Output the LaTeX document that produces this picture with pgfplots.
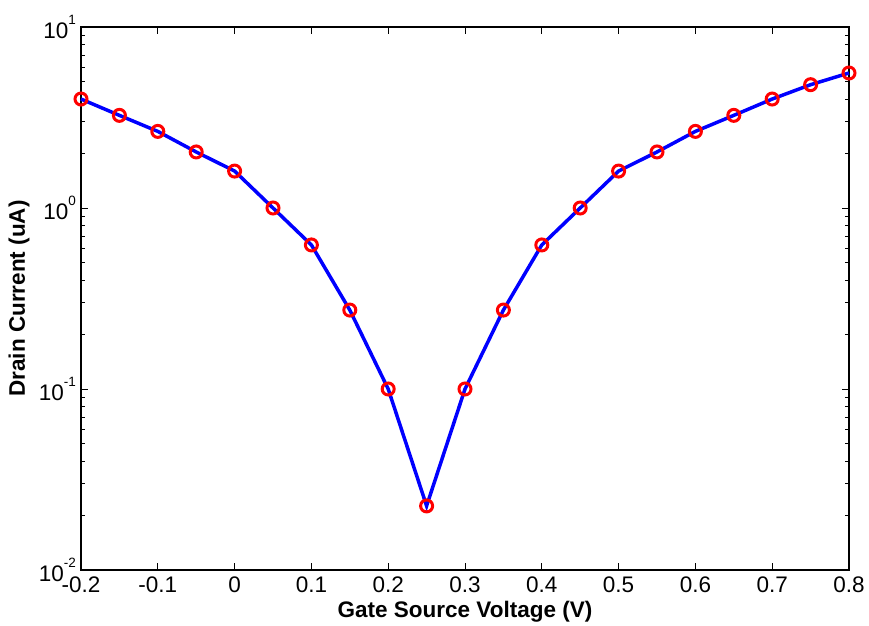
\documentclass[border=0pt]{standalone}
\usepackage{fontspec}
\setmainfont{Liberation Sans}
\usepackage{pgfplots}
\pgfplotsset{compat=1.18}
\newcommand{\tenpow}[1]{10\raisebox{14pt}{\fontsize{13.5}{15}\selectfont #1}}
\begin{document}
\begin{tikzpicture}
\begin{axis}[
  scale only axis, width=768pt, height=543pt,
  ymode=log, xmin=-0.2, xmax=0.8, ymin=0.01, ymax=10,
  xtick={-0.2,-0.1,0,0.1,0.2,0.3,0.4,0.5,0.6,0.7,0.8},
  xticklabels={-0.2,-0.1,0,0.1,0.2,0.3,0.4,0.5,0.6,0.7,0.8},
  ytick={0.01,0.1,1,10},
  yticklabels={\tenpow{-2},\tenpow{-1},\tenpow{0},\tenpow{1}},
  tick align=inside, major tick length=7pt, minor tick length=4pt,
  axis line style={line width=1.2pt},
  every tick/.style={black, line width=0.9pt},
  tick label style={font=\fontsize{22.5}{26}\selectfont},
  xticklabel style={yshift=-3pt},
  yticklabel style={xshift=-1.5pt},
  label style={font=\fontsize{22.5}{26}\selectfont\bfseries},
  xlabel={Gate Source Voltage (V)},
  ylabel={Drain Current (uA)},
  xlabel style={at={(axis description cs:0.5,-0.0773)}, anchor=center},
  ylabel style={at={(axis description cs:-0.0807,0.5)}, anchor=center},
  clip=false,
]
\addplot[blue, line width=3.5pt, mark=o, mark options={red, line width=3pt, mark size=6pt}] coordinates {
(-0.2,4.0) (-0.15,3.25) (-0.1,2.65) (-0.05,2.04) (0,1.6) (0.05,1.0) (0.1,0.625) (0.15,0.273) (0.2,0.1) (0.25,0.0226) (0.3,0.1) (0.35,0.273) (0.4,0.625) (0.45,1.0) (0.5,1.6) (0.55,2.04) (0.6,2.65) (0.65,3.25) (0.7,4.0) (0.75,4.8) (0.8,5.57)
};
\end{axis}
\path ([xshift=-81pt,yshift=-56pt]current axis.south west) rectangle ([xshift=20pt,yshift=27pt]current axis.north east);
\end{tikzpicture}
\end{document}
